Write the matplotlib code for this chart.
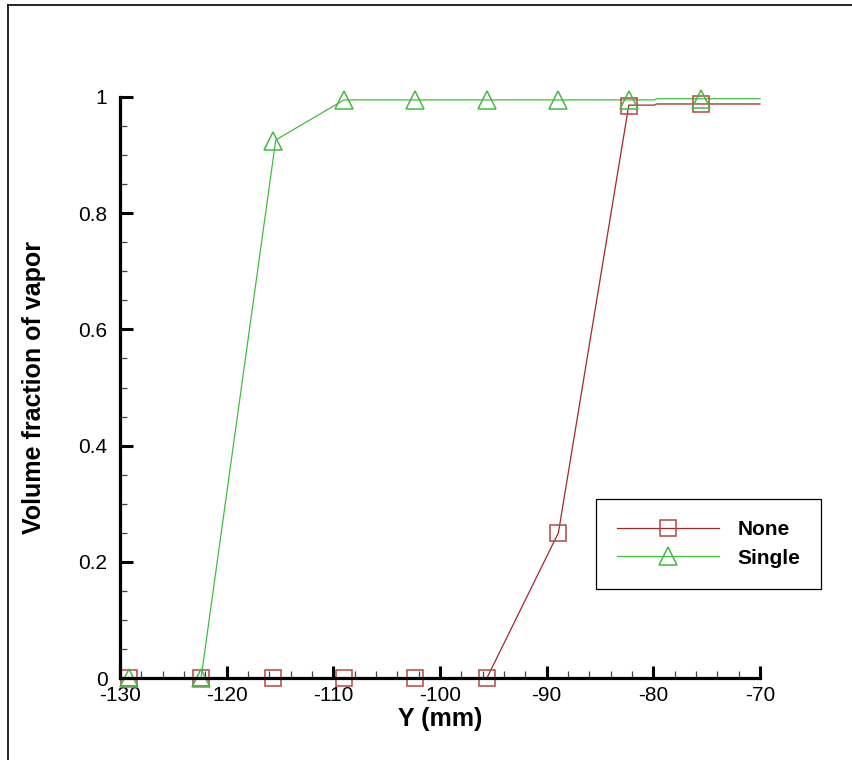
import matplotlib
matplotlib.use("Agg")
import matplotlib.pyplot as plt
from matplotlib.lines import Line2D
from matplotlib.ticker import MultipleLocator

plt.rcParams['font.family'] = ['Liberation Sans', 'DejaVu Sans']
plt.rcParams['axes.unicode_minus'] = False

# ---- data ----
# marker positions (symbols)
y_mm   = [-129.2, -122.4, -115.7, -109.0, -102.3, -95.6, -88.9, -82.3, -75.5]
none   = [0.0, 0.0, 0.0, 0.0, 0.0, 0.0, 0.25, 0.985, 0.988]
single = [0.0, 0.0, 0.925, 0.995, 0.995, 0.995, 0.995, 0.995, 0.996]

# drawn curves (denser than the symbols, run across the whole axis)
line_y_none   = [-130.0, -95.6, -88.9, -82.3, -79.9, -79.7, -70.0]
line_none     = [0.0, 0.0, 0.25, 0.986, 0.986, 0.988, 0.988]
line_y_single = [-130.0, -122.4, -115.4, -109.0, -79.9, -79.7, -70.0]
line_single   = [0.0, 0.0, 0.926, 0.995, 0.995, 0.997, 0.997]

labels = ["None", "Single"]

RED_LINE, RED_MK = "#a3262a", "#b54545"
GRN_LINE, GRN_MK = "#3fbf3f", "#45b845"

fig = plt.figure(figsize=(8.53, 7.60), dpi=100)
ax = fig.add_axes([120/853, 1 - 678/760, 640/853, 581/760])

ax.plot(line_y_none, line_none, '-', color=RED_LINE, lw=0.9, clip_on=False)
ax.plot(line_y_single, line_single, '-', color=GRN_LINE, lw=0.9, clip_on=False)
ax.plot(y_mm, none, ls='none', marker='s', ms=11.5, mfc='none',
        mec=RED_MK, mew=1.1, clip_on=False)
ax.plot(y_mm, single, ls='none', marker='^', ms=13, mfc='none',
        mec=GRN_MK, mew=1.1, clip_on=False)

ax.set_xlim(-130, -70)
ax.set_ylim(0, 1)

for side in ('top', 'right'):
    ax.spines[side].set_visible(False)
for side in ('left', 'bottom'):
    ax.spines[side].set_linewidth(2.3)

ax.xaxis.set_major_locator(MultipleLocator(10))
ax.xaxis.set_minor_locator(MultipleLocator(2))
ax.yaxis.set_major_locator(MultipleLocator(0.2))
ax.yaxis.set_minor_locator(MultipleLocator(0.05))
ax.yaxis.set_major_formatter(plt.FuncFormatter(lambda v, p: f"{v:g}"))
ax.tick_params(which='major', direction='in', length=9, width=2.2,
               labelsize=15, pad=6)
ax.tick_params(which='minor', direction='in', length=5, width=0.9,
               color='#444444')
ax.tick_params(axis='y', which='major', pad=9)

ax.set_xlabel("Y (mm)", fontsize=18, fontweight='bold', labelpad=1)
ax.set_ylabel("Volume fraction of vapor", fontsize=18, fontweight='bold',
              labelpad=23)

handles = [
    Line2D([], [], color=RED_LINE, lw=0.9, marker='s', ms=11.5, mfc='none',
           mec=RED_MK, mew=1.1),
    Line2D([], [], color=GRN_LINE, lw=0.9, marker='^', ms=13, mfc='none',
           mec=GRN_MK, mew=1.1),
]
leg = fig.legend(handles, labels, loc='center',
                 bbox_to_anchor=(708.5/853, 1 - 544/760),
                 numpoints=1, handlelength=4.9, handletextpad=0.9,
                 borderpad=1.0, labelspacing=0.45, fancybox=False,
                 framealpha=1, edgecolor='black',
                 prop={'size': 15, 'weight': 'bold'})
leg.get_frame().set_linewidth(0.9)

# outer frame (only left and top edges show in the picture)
fx, fy = 8/853, 1 - 5/760
fig.add_artist(Line2D([fx, fx], [0, fy], color='black', lw=1.2))
fig.add_artist(Line2D([fx, 1], [fy, fy], color='black', lw=1.2))

fig.savefig("out.png", dpi=100)
